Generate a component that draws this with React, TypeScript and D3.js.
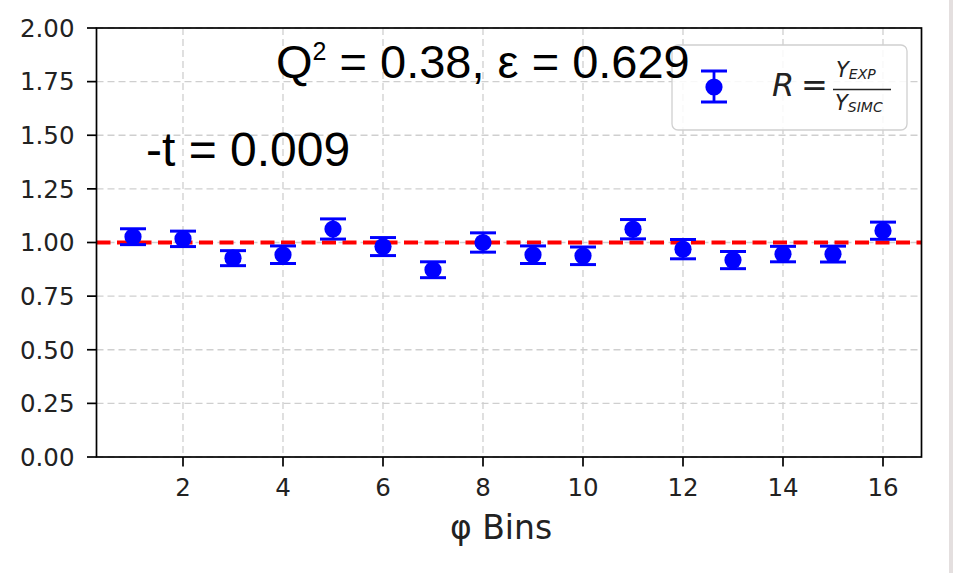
import React from "react";
import * as d3 from "d3";

const bins = [1, 2, 3, 4, 5, 6, 7, 8, 9, 10, 11, 12, 13, 14, 15, 16];
const ratio = [1.027, 1.017, 0.927, 0.943, 1.063, 0.981, 0.873, 1.0, 0.943, 0.938, 1.062, 0.969, 0.918, 0.946, 0.946, 1.055];
const ratioErr = [0.037, 0.036, 0.035, 0.041, 0.047, 0.042, 0.037, 0.045, 0.041, 0.041, 0.045, 0.045, 0.04, 0.036, 0.037, 0.04];
const xTicks = [2, 4, 6, 8, 10, 12, 14, 16];
const yTicks = [0, 0.25, 0.5, 0.75, 1.0, 1.25, 1.5, 1.75, 2.0];
const refLine = 1.0;

const W = 953;
const H = 573;
const L = 96.5, R = 921.5, T = 28, B = 457;

export default function App() {
  const x = d3.scaleLinear().domain([0.27, 16.77]).range([L, R]);
  const y = d3.scaleLinear().domain([0, 2]).range([B, T]);
  const tickFont = "DejaVu Sans, sans-serif";
  const blue = "#0000ff";
  const cap = 13;
  return (
    <div style={{ position: "absolute", left: 0, top: 0 }}>
      <svg width={W} height={H} style={{ display: "block", background: "#fff" }}>
        <rect x={0} y={0} width={W} height={H} fill="#fff" />
        <rect x={949} y={0} width={4} height={H} fill="#e4dfdf" />
        {/* grid */}
        {xTicks.map((t) => (
          <line key={"gx" + t} x1={x(t)} x2={x(t)} y1={T} y2={B} stroke="#cfcfcf" strokeWidth={1.3} strokeDasharray="7,4" />
        ))}
        {yTicks.map((t) => (
          <line key={"gy" + t} x1={L} x2={R} y1={y(t)} y2={y(t)} stroke="#cfcfcf" strokeWidth={1.3} strokeDasharray="7,4" />
        ))}
        {/* reference line */}
        <line x1={L} x2={R} y1={y(refLine)} y2={y(refLine)} stroke="#ff0000" strokeWidth={3.8} strokeDasharray="14,6.5" />
        {/* error bars */}
        {bins.map((b, i) => {
          const cx = x(b);
          const y1 = y(ratio[i] + ratioErr[i]);
          const y2 = y(ratio[i] - ratioErr[i]);
          return (
            <g key={"p" + b}>
              <line x1={cx} x2={cx} y1={y1} y2={y2} stroke={blue} strokeWidth={2.8} />
              <line x1={cx - cap} x2={cx + cap} y1={y1} y2={y1} stroke={blue} strokeWidth={3} />
              <line x1={cx - cap} x2={cx + cap} y1={y2} y2={y2} stroke={blue} strokeWidth={3} />
              <circle cx={cx} cy={y(ratio[i])} r={8.6} fill={blue} />
            </g>
          );
        })}
        {/* spines */}
        <rect x={L} y={T} width={R - L} height={B - T} fill="none" stroke="#000" strokeWidth={1.7} />
        {/* y ticks */}
        {yTicks.map((t) => (
          <g key={"yt" + t}>
            <line x1={L - 9.5} x2={L} y1={y(t)} y2={y(t)} stroke="#000" strokeWidth={1.7} />
            <text x={L - 22} y={y(t)} dy="0.36em" textAnchor="end" fontFamily={tickFont} fontSize={24.5} fill="#222">
              {t.toFixed(2)}
            </text>
          </g>
        ))}
        {/* x ticks */}
        {xTicks.map((t) => (
          <g key={"xt" + t}>
            <line x1={x(t)} x2={x(t)} y1={B} y2={B + 9.5} stroke="#000" strokeWidth={1.7} />
            <text x={x(t)} y={496} textAnchor="middle" fontFamily={tickFont} fontSize={24.5} fill="#222">
              {t}
            </text>
          </g>
        ))}
        <text x={501} y={539} textAnchor="middle" fontFamily={tickFont} fontSize={33} fill="#222">
          φ Bins
        </text>
        {/* legend */}
        <rect x={672} y={45} width={235} height={85} rx={6} fill="#fff" fillOpacity={0.85} stroke="#d0d0d0" strokeWidth={1.3} />
        <line x1={714} x2={714} y1={71} y2={102} stroke={blue} strokeWidth={2.8} />
        <line x1={714 - cap} x2={714 + cap} y1={71} y2={71} stroke={blue} strokeWidth={3} />
        <line x1={714 - cap} x2={714 + cap} y1={102} y2={102} stroke={blue} strokeWidth={3} />
        <circle cx={714} cy={87} r={8.6} fill={blue} />
        <g fontFamily={tickFont} fill="#222">
          <text x={772} y={96} fontSize={32} fontStyle="italic">R</text>
          <text x={801} y={96} fontSize={32}>=</text>
          <line x1={833} x2={891} y1={89.5} y2={89.5} stroke="#222" strokeWidth={1.6} />
          <text x={836} y={77} fontSize={21} fontStyle="italic">
            Y<tspan fontSize={14} dy={2}>EXP</tspan>
          </text>
          <text x={835} y={110} fontSize={21} fontStyle="italic">
            Y<tspan fontSize={14} dy={2}>SIMC</tspan>
          </text>
        </g>
        {/* annotations */}
        <text x={276} y={78} fontFamily="Liberation Sans, Arial, sans-serif" fontSize={47} fill="#000">
          Q<tspan fontSize={25} dy={-18}>2</tspan>
          <tspan dy={18}> = 0.38, ε = 0.629</tspan>
        </text>
        <text x={146} y={166} fontFamily="Liberation Sans, Arial, sans-serif" fontSize={48} fill="#000">
          -t = 0.009
        </text>
      </svg>
    </div>
  );
}
